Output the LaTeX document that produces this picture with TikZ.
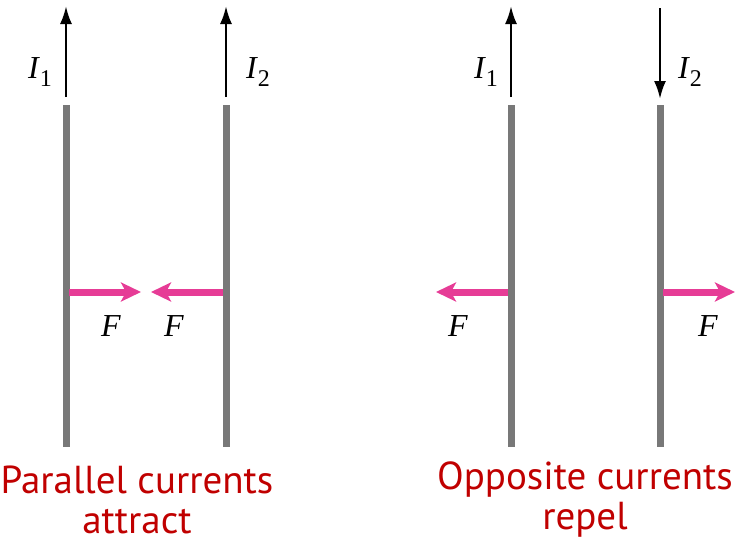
\documentclass[tikz,border=0pt]{standalone}
\usepackage{fontspec}
\setmainfont{Liberation Serif}
\newfontfamily\capfont{PT Sans}
\usetikzlibrary{arrows.meta, positioning}

\definecolor{wiregray}{RGB}{120,120,120}
\definecolor{forcepink}{RGB}{230,60,150}
\definecolor{capred}{RGB}{192,0,0}

\newcommand{\cursym}[1]{\textit{I}\raisebox{-0.25em}{\fontsize{24}{24}\selectfont #1}}

\begin{document}
\begin{tikzpicture}[
    x=1pt, y=-1pt,
    wire/.style={draw=wiregray, line width=7pt},
    current/.style={draw=black, line width=2.5pt, -{Latex[length=18pt, width=12pt]}},
    force/.style={draw=forcepink, line width=7pt, -{Stealth[length=20pt, width=19pt, inset=5pt]}},
    sym/.style={font=\fontsize{32}{32}\selectfont, inner sep=0pt},
    caption/.style={text=capred, align=center, font=\capfont\fontsize{39}{40}\selectfont, inner sep=0pt}
]
\useasboundingbox (0,0) rectangle (739,544);

% Wires
\coordinate (w1top) at (66,105);   \coordinate (w1bot) at (66,447);
\coordinate (w2top) at (226,105);  \coordinate (w2bot) at (226,447);
\coordinate (w3top) at (511,105);  \coordinate (w3bot) at (511,447);
\coordinate (w4top) at (660,105);  \coordinate (w4bot) at (660,447);
\draw[wire] (w1top) -- (w1bot);
\draw[wire] (w2top) -- (w2bot);
\draw[wire] (w3top) -- (w3bot);
\draw[wire] (w4top) -- (w4bot);

% Currents
\coordinate (c1a) at (66,97);   \coordinate (c1b) at (66,6);
\coordinate (c2a) at (226,97);  \coordinate (c2b) at (226,6);
\coordinate (c3a) at (511,97);  \coordinate (c3b) at (511,6);
\coordinate (c4a) at (660,8);   \coordinate (c4b) at (660,99);
\draw[current] (c1a) -- (c1b);
\draw[current] (c2a) -- (c2b);
\draw[current] (c3a) -- (c3b);
\draw[current] (c4a) -- (c4b);
\node[sym] (i1l) at (40,72) {\cursym{1}};
\node[sym] (i2l) at (258,72) {\cursym{2}};
\node[sym] (i1r) at (486,72) {\cursym{1}};
\node[sym] (i2r) at (690,72) {\cursym{2}};

% Forces
\coordinate (f1a) at (69,292);   \coordinate (f1b) at (141,292);
\coordinate (f2a) at (223,292);  \coordinate (f2b) at (151,292);
\coordinate (f3a) at (508,292);  \coordinate (f3b) at (436,292);
\coordinate (f4a) at (663,292);  \coordinate (f4b) at (735,292);
\draw[force] (f1a) -- (f1b);
\draw[force] (f2a) -- (f2b);
\draw[force] (f3a) -- (f3b);
\draw[force] (f4a) -- (f4b);
\node[sym] (fl1) at (111,326) {\textit{F}};
\node[sym] (fl2) at (174,326) {\textit{F}};
\node[sym] (fr1) at (458,326) {\textit{F}};
\node[sym] (fr2) at (708,326) {\textit{F}};

% Captions
\node[caption] (capl) at (137,500) {Parallel currents\\attract};
\node[caption] (capr) at (585,500) {Opposite currents\\repel};

\end{tikzpicture}
\end{document}
